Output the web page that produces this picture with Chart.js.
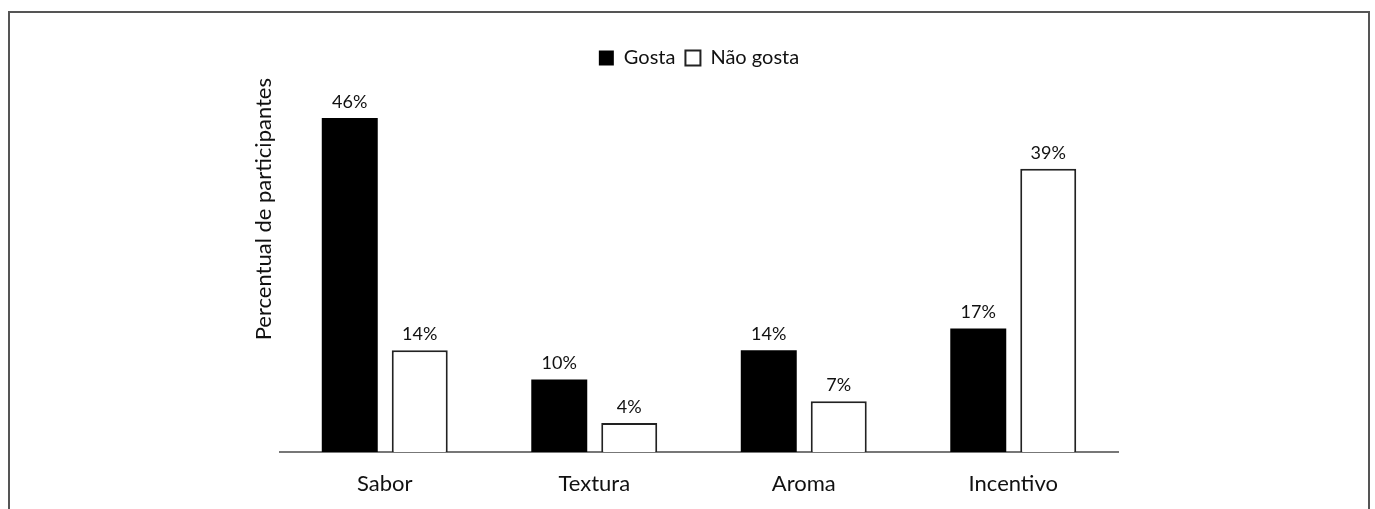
<!DOCTYPE html>
<html>
<head>
<meta charset="utf-8">
<script src="https://cdn.jsdelivr.net/npm/chart.js@4/dist/chart.umd.min.js"></script>
<style>
  html, body { margin: 0; padding: 0; background: #fff; }
  #wrap { position: relative; width: 1375px; height: 509px; overflow: hidden; }
  #frame { position: absolute; left: 8px; top: 11px; width: 1358px; height: 520px;
           border: 2px solid #555; pointer-events: none; }
</style>
</head>
<body>
<div id="wrap">
  <canvas id="chart"></canvas>
  <div id="frame"></div>
</div>
<script>
const categories = ["Sabor", "Textura", "Aroma", "Incentivo"];
const gosta = [46, 10, 14, 17];
const naoGosta = [14, 4, 7, 39];
const yMax = 51.5;

// draws the "46%" style labels over each bar
const valueLabels = {
    id: "valueLabels",
    afterDatasetsDraw(chart) {
        const ctx = chart.ctx;
        ctx.save();
        ctx.font = "18px Lato";
        ctx.fillStyle = "#111";
        ctx.textAlign = "center";
        ctx.textBaseline = "bottom";
        chart.data.datasets.forEach((ds, i) => {
            chart.getDatasetMeta(i).data.forEach((bar, j) => {
                ctx.fillText(ds.data[j] + "%", bar.x, bar.y - 7);
            });
        });
        ctx.restore();
    }
};

new Chart(document.getElementById("chart"), {
    type: "bar",
    data: {
        labels: categories,
        datasets: [
            {
                label: "Gosta",
                data: gosta,
                backgroundColor: "#000",
                borderColor: "#000",
                borderWidth: 0,
                barPercentage: 0.8,
                categoryPercentage: 0.668
            },
            {
                label: "Não gosta",
                data: naoGosta,
                backgroundColor: "#fff",
                borderColor: "#222",
                borderWidth: 2,
                barPercentage: 0.8,
                categoryPercentage: 0.668
            }
        ]
    },
    options: {
        responsive: true,
        maintainAspectRatio: false,
        animation: false,
        layout: { padding: { left: 240, right: 257, top: 38, bottom: 12 } },
        plugins: {
            tooltip: { enabled: false },
            legend: {
                position: "top",
                fullSize: false,
                labels: {
                    font: { family: "Lato", size: 20 },
                    color: "#111",
                    boxWidth: 15,
                    boxHeight: 15,
                    padding: 10
                }
            }
        },
        scales: {
            x: {
                grid: { display: false, drawTicks: false },
                border: { display: true, color: "#777", width: 2 },
                ticks: { font: { family: "Lato", size: 22 }, color: "#111", padding: 19 },
                afterFit(axis) { axis.height = 45; }
            },
            y: {
                min: 0,
                max: yMax,
                grid: { display: false, drawTicks: false },
                border: { display: false },
                ticks: { display: false },
                title: {
                    display: true,
                    text: "Percentual de participantes",
                    align: "end",
                    font: { family: "Lato", size: 22 },
                    color: "#111",
                    padding: { top: 11 }
                },
                afterFit(axis) { axis.width = 40; }
            }
        }
    },
    plugins: [valueLabels]
});
</script>
</body>
</html>
